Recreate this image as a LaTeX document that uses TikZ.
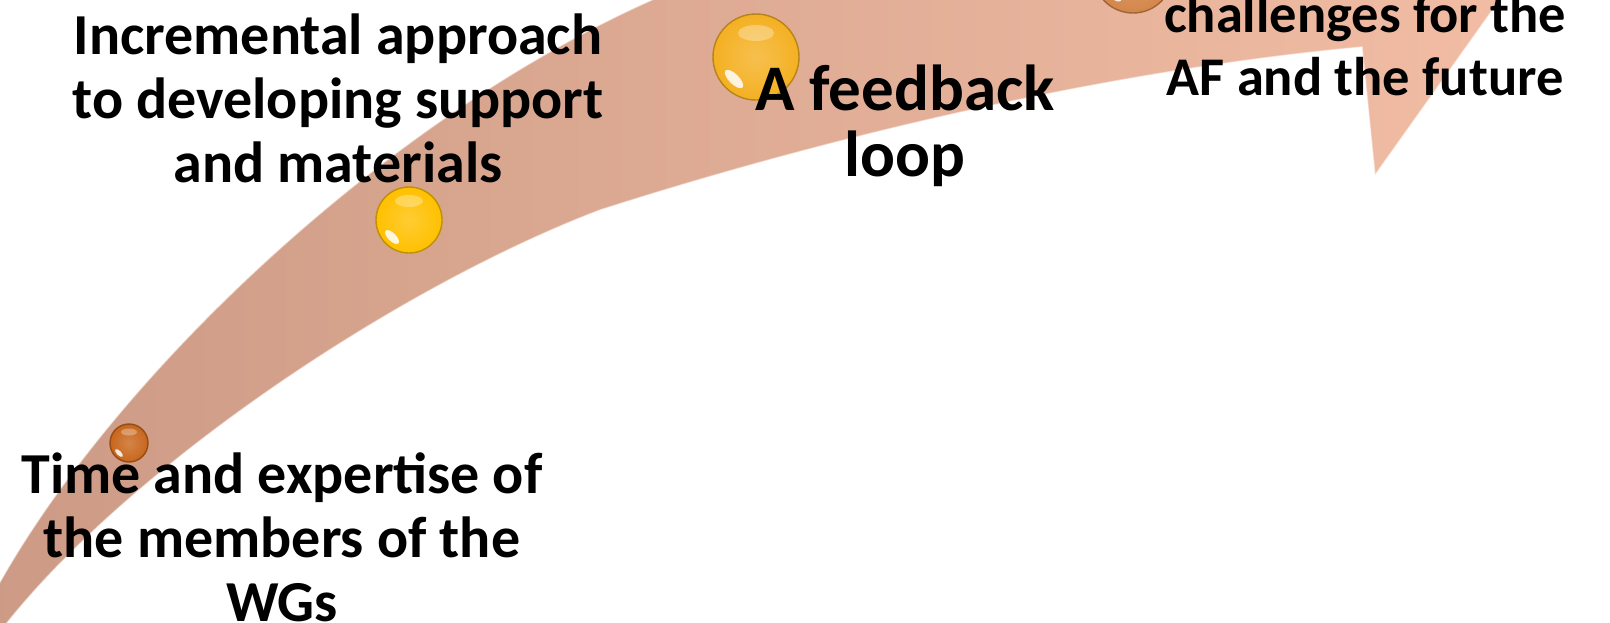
\documentclass[tikz,border=0pt]{standalone}
\usepackage{fontspec}
\setmainfont{Carlito}
\usepackage{tikz}
\usetikzlibrary{positioning}
\definecolor{bandtail}{HTML}{CC9A85}
\definecolor{bandmid}{HTML}{E8B39A}
\definecolor{bandhead}{HTML}{F2BDA4}
\definecolor{pearlbrown}{HTML}{C8661C}
\definecolor{pearlyellow}{HTML}{FFC000}
\definecolor{pearlamber}{HTML}{F4B022}
\definecolor{pearlcopper}{HTML}{D4864A}
\tikzset{
  stage/.style={font=\fontsize{16.5}{18.2}\selectfont\bfseries, align=center, inner sep=0pt},
  pearl/.style={inner color=#1!80!white, outer color=#1, draw=#1!75!black, line width=.4pt},
  gloss/.style={white, opacity=.85},
  sheen/.style={white, opacity=.3},
}

\begin{document}
\begin{tikzpicture}[x=0.1mm, y=-0.1mm]
\useasboundingbox (0,0) rectangle (1610,622);
\clip (0,0) rectangle (1610,622);

% curved arrow
\shadedraw[left color=bandtail, middle color=bandmid, right color=bandhead, draw=white, draw opacity=.5, line width=.4pt]
  (-20,620) .. controls (90,395) and (400,95) .. (700,-20)
  -- (1528,-40) -- (1375,175) -- (1362,47)
  .. controls (1112,70) and (834,135) .. (600,210)
  .. controls (390,290) and (110,480) .. (-10,645) -- cycle;

% pearls
\shadedraw[pearl=pearlbrown] (129,443) circle[radius=19];
\fill[sheen] (129,432) ellipse[x radius=8, y radius=3.5];
\fill[gloss, rotate around={-45:(119,453)}] (119,453) ellipse[x radius=5, y radius=2.2];

\shadedraw[pearl=pearlyellow] (409,220) circle[radius=33];
\fill[sheen] (409,201) ellipse[x radius=14, y radius=6];
\fill[gloss, rotate around={-45:(392,237)}] (392,237) ellipse[x radius=9, y radius=4];

\shadedraw[pearl=pearlamber] (756,57) circle[radius=43];
\fill[sheen] (756,33) ellipse[x radius=18, y radius=8];
\fill[gloss, rotate around={-45:(734,79)}] (734,79) ellipse[x radius=12, y radius=5];

\shadedraw[pearl=pearlcopper] (1133,-27) circle[radius=40];
\fill[gloss, rotate around={-45:(1113,-7)}] (1113,-7) ellipse[x radius=11, y radius=5];

% labels
\node[stage] (incremental) at (338,98) {Incremental approach\\to developing support\\and materials};
\node[stage, font=\fontsize{18.5}{18.8}\selectfont\bfseries] (feedback) at (905,126) {A feedback\\loop};
\node[stage] (time) at (282,537) {Time and expertise of\\the members of the\\WGs};
\node[stage, font=\fontsize{15.5}{18}\selectfont\bfseries] (challenges) at (1365,45) {challenges for the\\AF and the future};
\end{tikzpicture}
\end{document}
